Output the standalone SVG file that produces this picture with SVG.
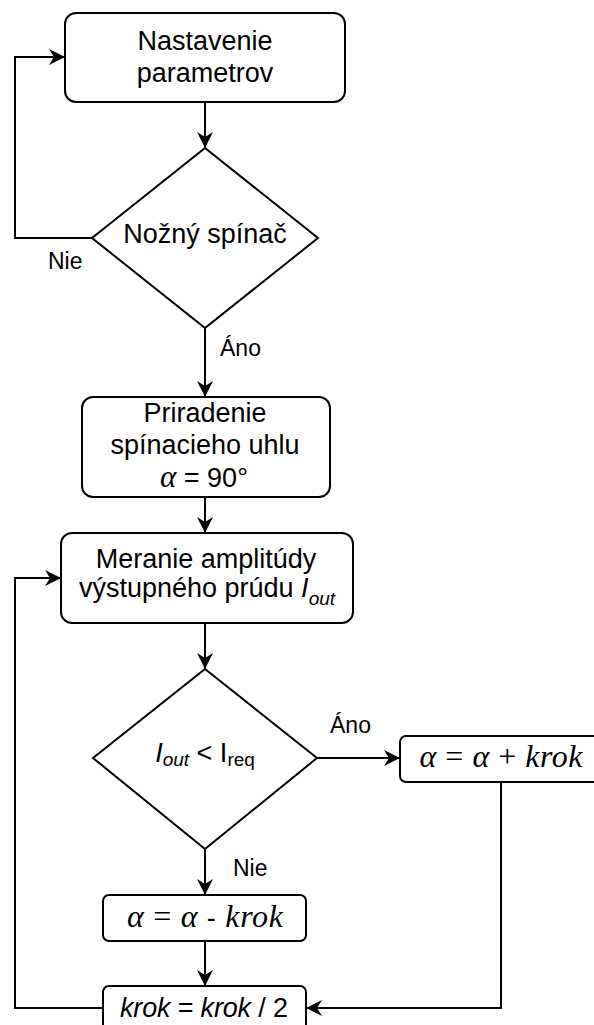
<svg xmlns="http://www.w3.org/2000/svg" width="594" height="1025" viewBox="0 0 594 1025">
  <style>
    .shape { fill: #fff; stroke: #000; stroke-width: 2; }
    .edge { fill: none; stroke: #000; stroke-width: 2; }
    .t { font-family: "Liberation Sans", Arial, sans-serif; font-size: 27px; fill: #000; text-anchor: middle; }
    .lbl { font-family: "Liberation Sans", Arial, sans-serif; font-size: 23px; fill: #000; }
    .m { font-family: "Liberation Serif", "Times New Roman", serif; font-style: italic; font-size: 32px; fill: #000; text-anchor: middle; }
    .up { font-style: normal; }
    .it { font-style: italic; }
    .sub { font-size: 19px; }
  </style>
  <defs>
    <marker id="arrow" viewBox="0 0 16 16" refX="15" refY="8" markerWidth="16" markerHeight="16" markerUnits="userSpaceOnUse" orient="auto">
      <path d="M0,0 L16,8 L0,16 L5,8 Z" fill="#000"/>
    </marker>
  </defs>
  <rect width="594" height="1025" fill="#fff"/>

  <!-- connectors -->
  <g id="connectors">
    <path class="edge" d="M205,102 V147" marker-end="url(#arrow)"/>
    <path class="edge" d="M92,238 H15 V57 H64" marker-end="url(#arrow)"/>
    <path class="edge" d="M205,328 V396" marker-end="url(#arrow)"/>
    <path class="edge" d="M205,497 V532" marker-end="url(#arrow)"/>
    <path class="edge" d="M205,623 V668" marker-end="url(#arrow)"/>
    <path class="edge" d="M317,758 H399" marker-end="url(#arrow)"/>
    <path class="edge" d="M205,849 V894" marker-end="url(#arrow)"/>
    <path class="edge" d="M205,941 V985" marker-end="url(#arrow)"/>
    <path class="edge" d="M103,1008 H15 V578 H60" marker-end="url(#arrow)"/>
    <path class="edge" d="M501,782 V1008 H307" marker-end="url(#arrow)"/>
    <text class="lbl" x="48" y="269">Nie</text>
    <text class="lbl" x="220" y="356">Áno</text>
    <text class="lbl" x="330" y="733">Áno</text>
    <text class="lbl" x="233" y="876">Nie</text>
  </g>

  <!-- setup of parameters -->
  <g id="setup">
    <rect class="shape" x="65" y="13" width="280" height="89" rx="11"/>
    <text class="t" x="205" y="50">Nastavenie</text>
    <text class="t" x="205" y="82">parametrov</text>
  </g>

  <!-- foot switch decision -->
  <g id="footswitch">
    <polygon class="shape" points="205,148 318,238 205,328 92,238"/>
    <text class="t" x="205" y="243">Nožný spínač</text>
  </g>

  <!-- initial switching angle -->
  <g id="initangle">
    <rect class="shape" x="82" y="397" width="248" height="100" rx="11"/>
    <text class="t" x="205" y="422">Priradenie</text>
    <text class="t" x="205" y="454">spínacieho uhlu</text>
    <text class="t" x="204" y="487"><tspan font-family="Liberation Serif, serif" font-style="italic" font-size="31">α</tspan> = 90°</text>
  </g>

  <!-- current measurement -->
  <g id="measure">
    <rect class="shape" x="61" y="533" width="292" height="90" rx="11"/>
    <text class="t" x="206" y="568">Meranie amplitúdy</text>
    <text class="t" x="207" y="597">výstupného prúdu <tspan class="it">I</tspan><tspan class="it sub" dy="8">out</tspan></text>
  </g>

  <!-- current comparison -->
  <g id="compare">
    <polygon class="shape" points="205,669 317,758 205,849 93,758"/>
    <text class="t" x="205" y="762"><tspan class="it">I</tspan><tspan class="it sub" dy="4">out</tspan><tspan dy="-4"> &lt; I</tspan><tspan class="sub" dy="4">req</tspan></text>
  </g>

  <!-- angle increase -->
  <g id="increase">
    <rect class="shape" x="400" y="736" width="204" height="46" rx="6"/>
    <text class="m" x="501" y="767" textLength="163" lengthAdjust="spacing">α <tspan class="up">=</tspan> α <tspan class="up">+</tspan> krok</text>
  </g>

  <!-- angle decrease -->
  <g id="decrease">
    <rect class="shape" x="103" y="895" width="203" height="46" rx="6"/>
    <text class="m" x="205" y="927" textLength="156" lengthAdjust="spacing">α <tspan class="up">=</tspan> α <tspan class="up" font-family="Liberation Sans, sans-serif" font-size="27">-</tspan> krok</text>
  </g>

  <!-- step halving -->
  <g id="halve">
    <rect class="shape" x="103" y="986" width="203" height="46" rx="6"/>
    <text class="t" x="204" y="1017" textLength="168" lengthAdjust="spacing"><tspan class="it">krok</tspan> = <tspan class="it">krok</tspan> / 2</text>
  </g>
</svg>
